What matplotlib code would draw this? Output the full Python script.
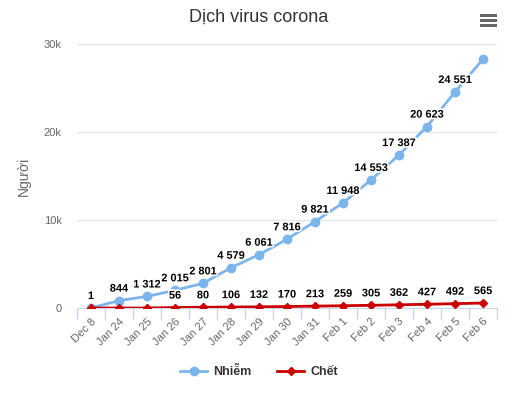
import matplotlib
matplotlib.use("Agg")
from matplotlib import pyplot as plt
from matplotlib import patheffects as pe
from matplotlib.patches import Rectangle

# data
days = ["Dec 8", "Jan 24", "Jan 25", "Jan 26", "Jan 27", "Jan 28", "Jan 29", "Jan 30",
        "Jan 31", "Feb 1", "Feb 2", "Feb 3", "Feb 4", "Feb 5", "Feb 6"]
infected = [1, 844, 1312, 2015, 2801, 4579, 6061, 7816, 9821, 11948, 14553, 17387,
            20623, 24551, 28276]
deaths = [0, 0, 0, 56, 80, 106, 132, 170, 213, 259, 305, 362, 427, 492, 565]
infected_labels = ["1", "844", "1 312", "2 015", "2 801", "4 579", "6 061", "7 816",
                   "9 821", "11 948", "14 553", "17 387", "20 623", "24 551", ""]
death_labels = ["", "", "", "56", "80", "106", "132", "170", "213", "259", "305",
                "362", "427", "492", "565"]

plt.rcParams['font.family'] = ['Liberation Sans', 'DejaVu Sans']

W, H = 518, 395
fig = plt.figure(figsize=(W / 100, H / 100), dpi=100)
ax = fig.add_axes([77 / W, 1 - 308 / H, (497 - 77) / W, (308 - 44) / H])

x = list(range(len(days)))
blue = "#7cb5ec"
red = "#cc0000"

ax.plot(x, infected, color=blue, lw=2, marker="o", ms=6, zorder=3, label="Nhiễm")
ax.plot(x, deaths, color=red, lw=2, marker="D", ms=4.5, zorder=4, label="Chết")

halo = [pe.withStroke(linewidth=2.5, foreground="white")]
for i, t in enumerate(infected_labels):
    if t:
        ax.annotate(t, (x[i], infected[i]), xytext=(0, 5), textcoords="offset points",
                    ha="center", va="bottom", fontsize=7.9, fontweight="bold",
                    color="black", path_effects=halo, zorder=6)
for i, t in enumerate(death_labels):
    if t:
        ax.annotate(t, (x[i], deaths[i]), xytext=(0, 5), textcoords="offset points",
                    ha="center", va="bottom", fontsize=7.9, fontweight="bold",
                    color="black", path_effects=halo, zorder=6)

ax.set_xlim(-0.5, len(days) - 0.5)
ax.set_ylim(0, 30000)
ax.set_yticks([0, 10000, 20000, 30000])
ax.set_yticklabels(["0", "10k", "20k", "30k"], color="#666666", fontsize=8)
ax.yaxis.grid(True, color="#e6e6e6", lw=1)
ax.set_axisbelow(True)
ax.tick_params(axis="y", length=0, pad=11)

ax.set_xticks(x)
ax.set_xticklabels(days, rotation=45, ha="right", rotation_mode="anchor",
                   color="#666666", fontsize=8)
ax.set_xticks([i - 0.5 for i in range(len(days) + 1)], minor=True)
ax.tick_params(axis="x", which="major", length=0, pad=6)
ax.tick_params(axis="x", which="minor", length=8, color="#ccd6eb", width=1)

for s in ["top", "right", "left"]:
    ax.spines[s].set_visible(False)
ax.spines["bottom"].set_color("#ccd6eb")

ax.set_ylabel("Người", color="#666666", fontsize=10, labelpad=9)

fig.text(0.5, 1 - 17 / H, "Dịch virus corona", ha="center", va="center",
         fontsize=13, color="#333333")

# menu icon
for yy in [14, 19, 24]:
    fig.patches.append(Rectangle((480 / W, 1 - (yy + 2.5) / H), 17 / W, 2.5 / H,
                                 transform=fig.transFigure, color="#666666", lw=0))

fig.legend(loc="center", bbox_to_anchor=(0.5, 1 - 372 / H), ncol=2, frameon=False,
           prop={"weight": "bold", "size": 9}, labelcolor="#333333",
           handlelength=2.2, columnspacing=2.0, handletextpad=0.5)

fig.savefig("out.png", dpi=100)
